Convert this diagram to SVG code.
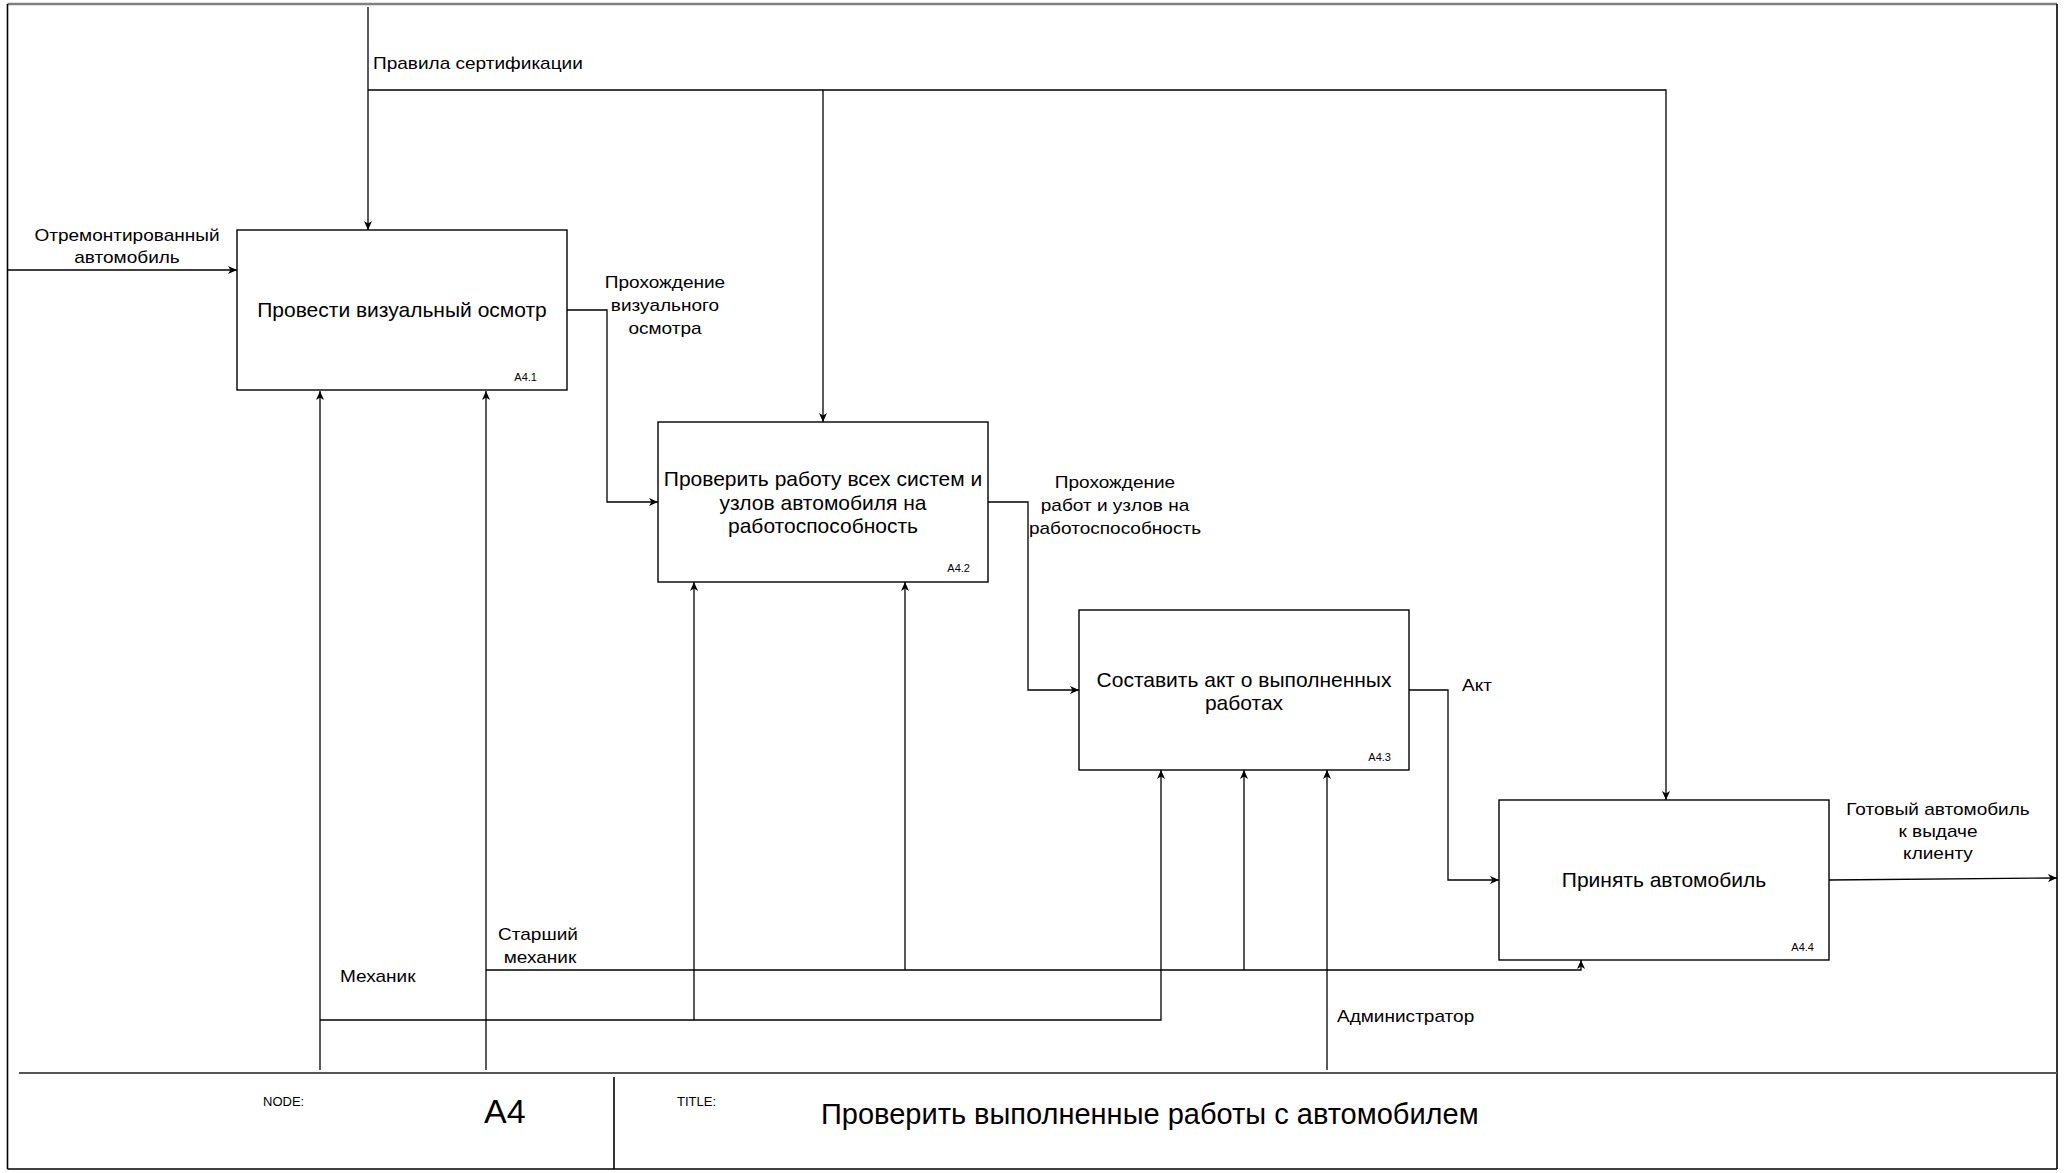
<svg xmlns="http://www.w3.org/2000/svg" width="2066" height="1173" viewBox="0 0 2066 1173">
<style>
  text { font-family: "Liberation Sans", Arial, sans-serif; fill: #000; }
  .box { fill: #fff; stroke: #000; stroke-width: 1.4; }
  .bt { font-size: 21px; text-anchor: middle; }
  .id { font-size: 11px; text-anchor: end; }
  .lb { font-size: 17px; }
  .lc { font-size: 17px; text-anchor: middle; }
  .ar { fill: none; stroke: #000; stroke-width: 1.3; marker-end: url(#arr); }
  .frame { fill: none; stroke: #000; stroke-width: 1.6; }
</style>
<defs>
  <marker id="arr" markerUnits="userSpaceOnUse" markerWidth="10" markerHeight="8" refX="9" refY="4" orient="auto">
    <path d="M0,0 L9,4 L0,8 L2.5,4 z" fill="#000"/>
  </marker>
</defs>
<rect width="2066" height="1173" fill="#fff"/>
<g id="frame">
  <line x1="7.5" y1="4" x2="2057" y2="4" stroke="#808080" stroke-width="2.5"/>
  <line class="frame" x1="7.5" y1="4" x2="7.5" y2="1169"/>
  <line class="frame" x1="2057" y1="4" x2="2057" y2="1169"/>
  <line class="frame" x1="7.5" y1="1169" x2="2057" y2="1169"/>
  <line x1="19" y1="1073" x2="2057" y2="1073" stroke="#555" stroke-width="2"/>
  <line class="frame" x1="614" y1="1077" x2="614" y2="1169"/>
  <text x="263" y="1106" font-size="13">NODE:</text>
  <text x="484" y="1123" font-size="34">A4</text>
  <text x="677" y="1106" font-size="13">TITLE:</text>
  <text x="821" y="1124" font-size="29">Проверить выполненные работы с автомобилем</text>
</g>
<g id="connectors">
  <path class="ar" d="M368,7 V230"/>
  <path class="ar" d="M368,90 H1666 V800"/>
  <path class="ar" d="M823,90 V422"/>
  <path class="ar" d="M8,270 H237"/>
  <path class="ar" d="M567,310 H607 V502 H658"/>
  <path class="ar" d="M988,502 H1028 V690 H1079"/>
  <path class="ar" d="M1409,690 H1448 V880 H1499"/>
  <path class="ar" d="M1829,880 L2057,878"/>
  <path class="ar" d="M320,1070 V391"/>
  <path class="ar" d="M320,1020 H1161 V770"/>
  <path class="ar" d="M694,1020 V582"/>
  <path class="ar" d="M486,1070 V391"/>
  <path class="ar" d="M486,970 H1581 V960"/>
  <path class="ar" d="M905,970 V582"/>
  <path class="ar" d="M1244,970 V770"/>
  <path class="ar" d="M1327,1070 V770"/>
  <text class="lb" transform="translate(373,69) scale(1.12,1)">Правила сертификации</text>
  <text class="lc" transform="translate(127,241) scale(1.12,1)">Отремонтированный</text>
  <text class="lc" transform="translate(127,263) scale(1.12,1)">автомобиль</text>
  <text class="lc" transform="translate(665,288) scale(1.12,1)">Прохождение</text>
  <text class="lc" transform="translate(665,311) scale(1.12,1)">визуального</text>
  <text class="lc" transform="translate(665,334) scale(1.12,1)">осмотра</text>
  <text class="lc" transform="translate(1115,488) scale(1.12,1)">Прохождение</text>
  <text class="lc" transform="translate(1115,511) scale(1.12,1)">работ и узлов на</text>
  <text class="lc" transform="translate(1115,534) scale(1.12,1)">работоспособность</text>
  <text class="lb" transform="translate(1462,691) scale(1.12,1)">Акт</text>
  <text class="lc" transform="translate(1938,815) scale(1.12,1)">Готовый автомобиль</text>
  <text class="lc" transform="translate(1938,837) scale(1.12,1)">к выдаче</text>
  <text class="lc" transform="translate(1938,859) scale(1.12,1)">клиенту</text>
  <text class="lb" transform="translate(340,982) scale(1.12,1)">Механик</text>
  <text class="lc" transform="translate(538,940) scale(1.12,1)">Старший</text>
  <text class="lc" transform="translate(540,963) scale(1.12,1)">механик</text>
  <text class="lb" transform="translate(1337,1022) scale(1.12,1)">Администратор</text>
</g>
<g id="node-a41">
  <rect class="box" x="237" y="230" width="330" height="160"/>
  <text class="bt" x="402" y="317">Провести визуальный осмотр</text>
  <text class="id" x="537" y="381">A4.1</text>
</g>
<g id="node-a42">
  <rect class="box" x="658" y="422" width="330" height="160"/>
  <text class="bt" x="823" y="486">Проверить работу всех систем и</text>
  <text class="bt" x="823" y="510">узлов автомобиля на</text>
  <text class="bt" x="823" y="533">работоспособность</text>
  <text class="id" x="970" y="572">A4.2</text>
</g>
<g id="node-a43">
  <rect class="box" x="1079" y="610" width="330" height="160"/>
  <text class="bt" x="1244" y="687">Составить акт о выполненных</text>
  <text class="bt" x="1244" y="710">работах</text>
  <text class="id" x="1391" y="761">A4.3</text>
</g>
<g id="node-a44">
  <rect class="box" x="1499" y="800" width="330" height="160"/>
  <text class="bt" x="1664" y="887">Принять автомобиль</text>
  <text class="id" x="1814" y="951">A4.4</text>
</g>
</svg>
